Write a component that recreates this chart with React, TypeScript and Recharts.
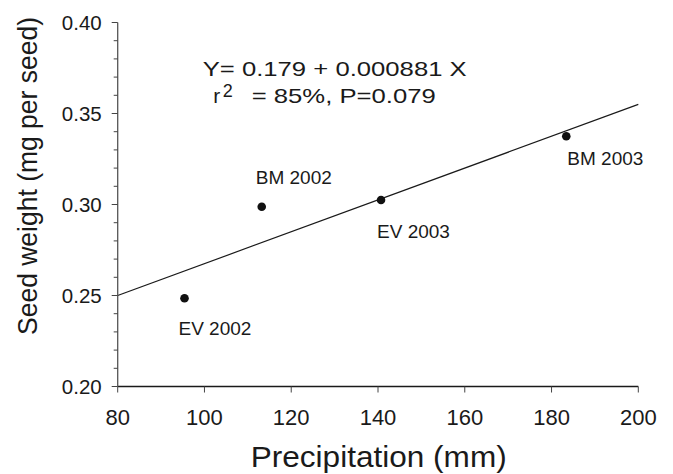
import React from 'react';
import { ScatterChart, Scatter, XAxis, YAxis, ReferenceLine, LabelList, Customized } from 'recharts';

// precipitation (mm) vs seed weight (mg per seed)
const siteLabels = ['EV 2002', 'BM 2002', 'EV 2003', 'BM 2003'];
const precipitation = [95.4, 113.2, 140.7, 183.4];
const seedWeight = [0.2485, 0.2988, 0.3025, 0.3375];

const xTicks = [80, 100, 120, 140, 160, 180, 200];
const yTicks = [0.2, 0.21, 0.22, 0.23, 0.24, 0.25, 0.26, 0.27, 0.28, 0.29, 0.3, 0.31, 0.32, 0.33, 0.34, 0.35, 0.36, 0.37, 0.38, 0.39, 0.4];

// fitted line ends
const fitX = [80, 200];
const fitY = [0.25, 0.355];

const data = siteLabels.map((name, i) => ({ name, x: precipitation[i], y: seedWeight[i] }));

// where each point label sits relative to its dot
const labelOffset: Record<string, [number, number]> = {
  'EV 2002': [-6, 37],
  'BM 2002': [-6, -23],
  'EV 2003': [-4, 38],
  'BM 2003': [1, 29],
};

const FONT = '"Liberation Sans", Arial, sans-serif';
const INK = '#1a1a1a';

const YTick = (props: any) => {
  const { x, y, payload } = props;
  const v = payload.value;
  const major = Math.abs(v * 20 - Math.round(v * 20)) < 1e-6;
  return (
    <g>
      <line x1={x - (major ? 6 : 4)} x2={x} y1={y} y2={y} stroke="#444" strokeWidth={1} />
      {major && (
        <text x={x - 16} y={y} dy="0.36em" textAnchor="end" fontSize={20.5} fill={INK} fontFamily={FONT}>
          {v.toFixed(2)}
        </text>
      )}
    </g>
  );
};

const XTick = (props: any) => {
  const { x, y, payload } = props;
  return (
    <g>
      <line x1={x} x2={x} y1={y} y2={y + 6} stroke="#444" strokeWidth={1} />
      <text x={x} y={y + 38.5} textAnchor="middle" fontSize={22} fill={INK} fontFamily={FONT}>
        {payload.value}
      </text>
    </g>
  );
};

const Dot = (props: any) => <circle cx={props.cx} cy={props.cy} r={4.3} fill="#111" />;

const PointLabel = (props: any) => {
  const { x, y, width, height, value } = props;
  const cx = x + (width || 0) / 2;
  const cy = y + (height || 0) / 2;
  const [dx, dy] = labelOffset[value] || [0, 0];
  return (
    <text x={cx + dx} y={cy + dy} fontSize={19} fill={INK} fontFamily={FONT}>
      {value}
    </text>
  );
};

const Annotations = () => (
  <g fontFamily={FONT} fill={INK}>
    <text x={202.7} y={76} fontSize={21} textLength={264} lengthAdjust="spacingAndGlyphs">
      Y= 0.179 + 0.000881 X
    </text>
    <text x={213.3} y={103.3} fontSize={21}>r</text>
    <text x={222.7} y={97} fontSize={18}>2</text>
    <text x={251.7} y={103.3} fontSize={21} textLength={184} lengthAdjust="spacingAndGlyphs">
      = 85%, P=0.079
    </text>
    <text x={378.7} y={467} fontSize={30} textAnchor="middle" textLength={256} lengthAdjust="spacingAndGlyphs">
      Precipitation (mm)
    </text>
    <text
      x={36.7}
      y={176}
      fontSize={28}
      textAnchor="middle"
      textLength={318}
      lengthAdjust="spacingAndGlyphs"
      transform="rotate(-90 36.7 176)"
    >
      Seed weight (mg per seed)
    </text>
  </g>
);

export default function App() {
  return (
    <div style={{ position: 'absolute', left: 0, top: 0, background: '#fff' }}>
      <ScatterChart
        width={673}
        height={474}
        margin={{ top: 22.5, right: 34.7, bottom: 27.5, left: 0 }}
      >
        <XAxis
          type="number"
          dataKey="x"
          domain={[80, 200]}
          ticks={xTicks}
          interval={0}
          height={60}
          tickSize={0}
          tickMargin={0}
          axisLine={{ stroke: INK, strokeWidth: 1.3 }}
          tickLine={false}
          tick={<XTick />}
        />
        <YAxis
          type="number"
          dataKey="y"
          domain={[0.2, 0.4]}
          ticks={yTicks}
          interval={0}
          width={117.7}
          tickSize={0}
          tickMargin={0}
          axisLine={{ stroke: '#555', strokeWidth: 1.3 }}
          tickLine={false}
          tick={<YTick />}
        />
        <ReferenceLine
          segment={[{ x: fitX[0], y: fitY[0] }, { x: fitX[1], y: fitY[1] }]}
          stroke={INK}
          strokeWidth={1.2}
          ifOverflow="visible"
        />
        <Scatter data={data} shape={<Dot />} isAnimationActive={false}>
          <LabelList dataKey="name" content={<PointLabel />} />
        </Scatter>
        <Customized component={Annotations} />
      </ScatterChart>
    </div>
  );
}
